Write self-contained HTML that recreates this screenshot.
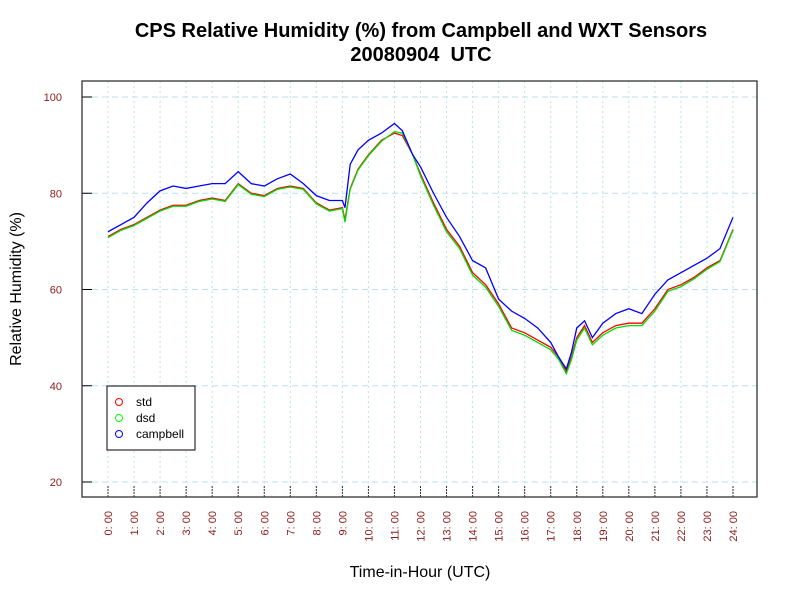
<!DOCTYPE html>
<html><head><meta charset="utf-8"><style>
body{margin:0;background:#fff;font-family:"Liberation Sans",sans-serif}
svg text{font-family:"Liberation Sans",sans-serif}
</style></head><body>
<svg id="chart" width="800" height="600" xmlns="http://www.w3.org/2000/svg">
<rect width="800" height="600" fill="#fff"/>
<text x="421" y="37" text-anchor="middle" font-size="20" font-weight="bold">CPS Relative Humidity (%) from Campbell and WXT Sensors</text>
<text x="421" y="61" text-anchor="middle" font-size="20" font-weight="bold">20080904&#160;&#160;UTC</text>
<g id="grid"></g>
<g id="series"></g>
<g id="axes"></g>
<rect x="82" y="81" width="675" height="416" fill="none" stroke="#333" stroke-width="1.3"/>
<text x="420" y="577" text-anchor="middle" font-size="16">Time-in-Hour (UTC)</text>
<text transform="translate(21,289) rotate(-90)" text-anchor="middle" font-size="16">Relative Humidity (%)</text>
<g>
<rect x="107" y="386" width="88" height="64" fill="#fff" stroke="#000"/>
<circle cx="119" cy="402" r="3.5" fill="none" stroke="#f00"/>
<text x="136" y="406" font-size="12">std</text>
<circle cx="119" cy="418" r="3.5" fill="none" stroke="#0f0"/>
<text x="136" y="422" font-size="12">dsd</text>
<circle cx="119" cy="434" r="3.5" fill="none" stroke="#00f"/>
<text x="136" y="438" font-size="12">campbell</text>
</g>
</svg>
<script>
const hours=[0,0.5,1,1.5,2,2.5,3,3.5,4,4.5,5,5.5,6,6.5,7,7.5,8,8.5,9,9.1,9.3,9.6,10,10.5,11,11.3,11.7,12,12.5,13,13.5,14,14.5,15,15.5,16,16.5,17,17.3,17.6,17.8,18,18.3,18.6,19,19.5,20,20.5,21,21.5,22,22.5,23,23.5,24];
const campbell=[72,73.5,75,78,80.5,81.5,81,81.5,82,82,84.5,82,81.5,83,84,82,79.5,78.5,78.5,77,86,89,91,92.5,94.5,93,88,85.5,80,75,71,66,64.5,58,55.5,54,52,49,46,43.5,47,52,53.5,50,53,55,56,55,59,62,63.5,65,66.5,68.5,75];
const std=[71,72.5,73.5,75,76.5,77.5,77.5,78.5,79,78.5,82,80,79.5,81,81.5,81,78,76.5,77,74.5,81,85,88,91,92.5,92,88,84,78,72.5,69,63.5,61,57,52,51,49.5,48,46,43,46,50,52.5,49,51,52.5,53,53,56,60,61,62.5,64.5,66,72.5];
const dsd=[70.8,72.3,73.3,74.8,76.3,77.3,77.3,78.3,78.8,78.3,81.8,79.8,79.3,80.8,81.3,80.8,77.8,76.3,76.8,74,80.8,84.8,87.8,90.8,92.8,92.5,88,83.6,77.5,72,68.5,63,60.5,56.5,51.5,50.5,49,47.5,45.5,42.5,45.5,49.5,52,48.5,50.5,52,52.5,52.5,55.5,59.6,60.6,62.2,64.2,65.8,72.3];
const yTicks=[20,40,60,80,100];
const xTicks=[0,1,2,3,4,5,6,7,8,9,10,11,12,13,14,15,16,17,18,19,20,21,22,23,24];
const NS="http://www.w3.org/2000/svg";
const X=h=>108+h*(733-108)/24;
const Y=v=>97+(100-v)*(482-97)/80;
function mk(t,a,p){const e=document.createElementNS(NS,t);for(const k in a)e.setAttribute(k,a[k]);p.appendChild(e);return e;}
const grid=document.getElementById('grid'),axes=document.getElementById('axes'),ser=document.getElementById('series');
yTicks.forEach(v=>{
 const l=mk('line',{x1:82,x2:757,y1:Y(v),y2:Y(v),stroke:'#bde0ea','stroke-dasharray':'6,4'},grid);
 
 
 const tk=mk('line',{x1:82,x2:92,y1:Y(v),y2:Y(v),stroke:'#000'},axes);
 
 
 const t=mk('text',{x:62,y:Y(v)+4,'text-anchor':'end','font-size':11,fill:'#8b1a1a'},axes);
 t.textContent=v;
 
 
});
xTicks.forEach(h=>{
 const l=mk('line',{x1:X(h),x2:X(h),y1:81,y2:497,stroke:'#bde0ea','stroke-dasharray':'2,3'},grid);
 
 
 const tk=mk('line',{x1:X(h),x2:X(h),y1:486,y2:497,stroke:'#333','stroke-dasharray':'2,1'},axes);
 
 
 const t=mk('text',{transform:`translate(${X(h)+4},511) rotate(-90)`,'text-anchor':'end','font-size':11,fill:'#8b1a1a'},axes);
 t.textContent=h+': 00';
 
 
});
[[std,'#f00','std-line'],[dsd,'#0d0','dsd-line'],[campbell,'#00f','campbell-line']].forEach(([arr,c,n])=>{
 const p=mk('polyline',{points:arr.map((v,i)=>X(hours[i])+','+Y(v)).join(' '),fill:'none',stroke:c,'stroke-width':1.3},ser);
 
 
});
</script>
</body></html>
